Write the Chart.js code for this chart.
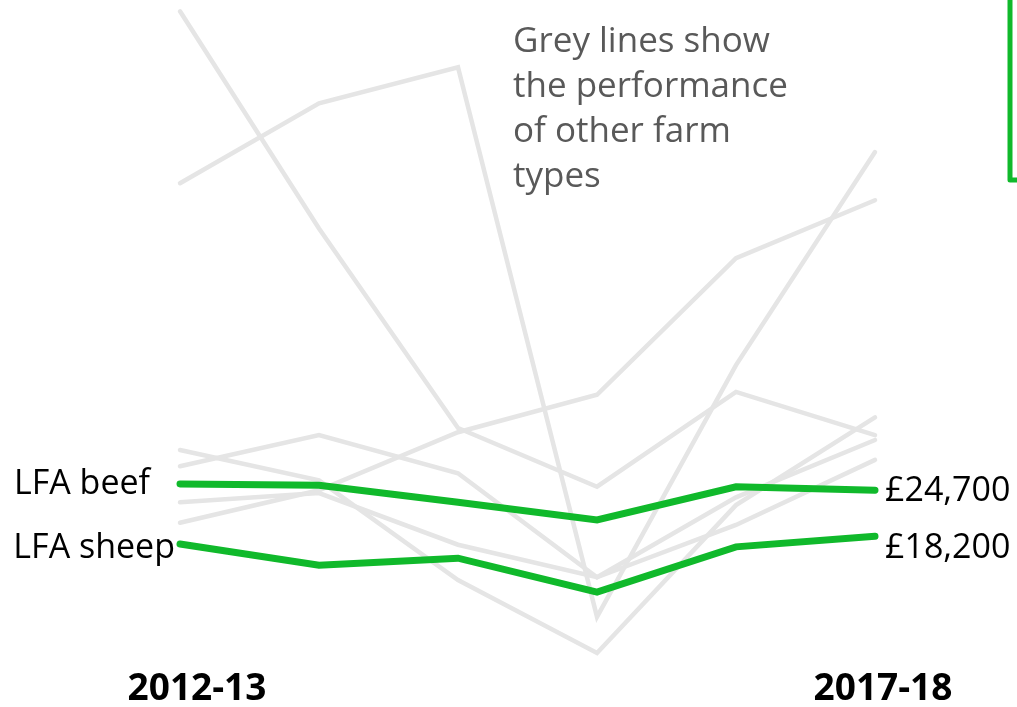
<!DOCTYPE html>
<html>
<head>
<meta charset="utf-8">
<script src="https://cdn.jsdelivr.net/npm/chart.js@4/dist/chart.umd.min.js"></script>
<style>
  html, body { margin: 0; padding: 0; background: #fff; }
  #wrap { width: 1017px; height: 707px; position: relative; }
</style>
</head>
<body>
<div id="wrap"><canvas id="farm-chart" width="1017" height="707"></canvas></div>
<script>
// years along the x axis
const years = ['2012-13', '2013-14', '2014-15', '2015-16', '2016-17', '2017-18'];

// highlighted farm types (average farm business income, £)
const lfaBeef = [25600, 25400, 23000, 20500, 25200, 24700];
const lfaSheep = [17100, 14100, 15100, 10300, 16700, 18200];

// other farm types, drawn in grey
const otherA = [92400, 61700, 33500, 25200, 38600, 32500];
const otherB = [68100, 79400, 84500, 6800, 42400, 72500];
const otherC = [30400, 26100, 12000, 1700, 22600, 35000];
const otherD = [28100, 32500, 27100, 12400, 23700, 31800];
const otherE = [20100, 24700, 32900, 38200, 57500, 65700];
const otherF = [23000, 24300, 17000, 12400, 19800, 29000];

const greyLines = [otherA, otherB, otherC, otherD, otherE, otherF];
const noteLines = ['Grey lines show', 'the performance', 'of other farm', 'types'];

const GREEN = '#10b92b';
const GREY = '#e5e5e5';
const FONT = '"Open Sans", "Noto Sans", sans-serif';

const money = v => '£' + v.toLocaleString('en-GB');

const labelsPlugin = {
    id: 'labels',
    afterDraw: (chart) => {
        const ctx = chart.ctx;
        const x = chart.scales.x;
        const y = chart.scales.y;
        const last = years.length - 1;

        ctx.save();
        ctx.textBaseline = 'middle';

        // series names on the left
        ctx.fillStyle = '#000';
        ctx.font = '34px ' + FONT;
        ctx.textAlign = 'right';
        ctx.fillText('LFA beef', x.getPixelForValue(0) - 30, y.getPixelForValue(lfaBeef[0]));
        ctx.fillText('LFA sheep', x.getPixelForValue(0) - 5, y.getPixelForValue(lfaSheep[0]) + 4);

        // latest values on the right
        ctx.textAlign = 'left';
        ctx.fillText(money(lfaBeef[last]), x.getPixelForValue(last) + 10, y.getPixelForValue(lfaBeef[last]) + 1);
        ctx.fillText(money(lfaSheep[last]), x.getPixelForValue(last) + 10, y.getPixelForValue(lfaSheep[last]) + 12);

        // first and last year
        ctx.font = 'bold 37px ' + FONT;
        ctx.textAlign = 'center';
        ctx.fillText(years[0], x.getPixelForValue(0) + 17, 689);
        ctx.fillText(years[last], x.getPixelForValue(last) + 8, 689);

        // note
        ctx.fillStyle = '#595959';
        ctx.font = '35px ' + FONT;
        ctx.textAlign = 'left';
        noteLines.forEach((t, i) => ctx.fillText(t, 513, 42 + i * 45));

        // green bracket top right
        ctx.strokeStyle = GREEN;
        ctx.lineWidth = 5;
        ctx.lineJoin = 'round';
        ctx.beginPath();
        ctx.moveTo(1010, -5);
        ctx.lineTo(1010, 180);
        ctx.lineTo(1022, 180);
        ctx.stroke();
        ctx.restore();
    }
};

const greySets = greyLines.map(d => ({
    data: d,
    borderColor: GREY,
    borderWidth: 4.5,
    order: 2
}));

new Chart(document.getElementById('farm-chart').getContext('2d'), {
    type: 'line',
    data: {
        labels: years,
        datasets: [
            { data: lfaBeef, borderColor: GREEN, borderWidth: 7, order: 1 },
            { data: lfaSheep, borderColor: GREEN, borderWidth: 7, order: 1 },
            ...greySets
        ]
    },
    options: {
        responsive: false,
        animation: false,
        layout: { padding: { left: 180, right: 142, top: 0, bottom: 42 } },
        scales: {
            x: { display: false },
            y: { display: false, min: 0, max: 94000 }
        },
        elements: {
            point: { radius: 0 },
            line: { tension: 0, fill: false, borderCapStyle: 'round', borderJoinStyle: 'miter' }
        },
        datasets: { line: { clip: false } },
        plugins: {
            legend: { display: false },
            tooltip: { enabled: false }
        }
    },
    plugins: [labelsPlugin]
});
</script>
</body>
</html>
